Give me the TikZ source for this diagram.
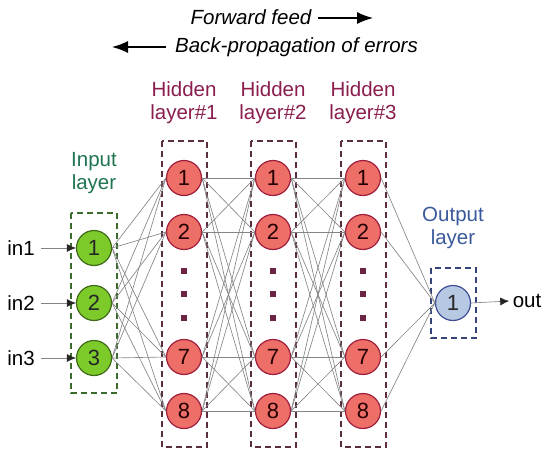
\documentclass[tikz,border=0pt]{standalone}
\usepackage{fontspec}
\setmainfont{Liberation Sans}
\usetikzlibrary{arrows.meta}
\definecolor{ingreen}{HTML}{7DCB2A}
\definecolor{inborder}{HTML}{3F6A18}
\definecolor{inboxc}{HTML}{3C6B2E}
\definecolor{inlabel}{HTML}{1F7550}
\definecolor{hidfill}{HTML}{EE6E68}
\definecolor{hidborder}{HTML}{9E1E3C}
\definecolor{hidboxc}{HTML}{5A2D40}
\definecolor{hidlabel}{HTML}{8A1E4E}
\definecolor{sqc}{HTML}{6B2444}
\definecolor{outfill}{HTML}{B7C8E3}
\definecolor{outborder}{HTML}{3F4E96}
\definecolor{outboxc}{HTML}{34437A}
\definecolor{outlabel}{HTML}{3A5A9C}
\definecolor{edgec}{HTML}{858585}
\begin{document}
\begin{tikzpicture}[x=1pt,y=-1pt,
  every node/.style={font=\fontsize{20.5}{23}\selectfont},
  neuron/.style={circle,minimum size=35pt,inner sep=0pt,line width=1.2pt,draw,font=\fontsize{22}{24}\selectfont},
  innode/.style={neuron,fill=ingreen,draw=inborder,text=black!85},
  hidnode/.style={neuron,fill=hidfill,draw=hidborder,text=black!85!red},
  outnode/.style={neuron,fill=outfill,draw=outborder,text=black!85},
  edge/.style={draw=edgec,line width=0.65pt},
  layerbox/.style={dashed,line width=1.6pt,dash pattern=on 6pt off 4pt},
  lbl/.style={align=center},
  sq/.style={rectangle,fill=sqc,minimum size=6pt,inner sep=0pt},
  ioarrow/.style={draw=edgec,line width=0.65pt,-{Latex[length=9pt,width=8pt,color=black!85]}},
  bigarrow/.style={line width=1.3pt,-{Latex[length=16pt,width=12pt]}}
]
\useasboundingbox (0,0) rectangle (550,458);

% top texts
\node (ff) at (251,17) {\itshape Forward feed};
\node (bp) at (296.5,47) {\itshape Back-propagation of errors};
\coordinate (f1) at (318,18);
\coordinate (f2) at (373,18);
\coordinate (b1) at (166,47);
\coordinate (b2) at (112,47);
\draw[bigarrow] (f1) -- (f2);
\draw[bigarrow] (b1) -- (b2);

% boxes
\draw[layerbox,draw=inboxc] (71,213) rectangle (117,393);
\draw[layerbox,draw=hidboxc] (162,141) rectangle (207,447);
\draw[layerbox,draw=hidboxc] (251,141) rectangle (296,447);
\draw[layerbox,draw=hidboxc] (341,141) rectangle (386,447);
\draw[layerbox,draw=outboxc] (431,268) rectangle (476,338);

% labels
\node[lbl,text=inlabel] (linput) at (94,173) {Input\\layer};
\node[lbl,text=hidlabel] (lh1) at (184,103) {Hidden\\layer\#1};
\node[lbl,text=hidlabel] (lh2) at (273,103) {Hidden\\layer\#2};
\node[lbl,text=hidlabel] (lh3) at (363,103) {Hidden\\layer\#3};
\node[lbl,text=outlabel] (lout) at (453,228) {Output\\layer};

% input nodes
\node[innode] (i1) at (94,248) {1};
\node[innode] (i2) at (94,303) {2};
\node[innode] (i3) at (94,358) {3};

% hidden nodes
\foreach \L/\x in {a/184,b/273,c/363}{
  \node[hidnode] (\L1) at (\x,178) {1};
  \node[hidnode] (\L2) at (\x,232) {2};
  \node[hidnode] (\L7) at (\x,357) {7};
  \node[hidnode] (\L8) at (\x,411) {8};
  \node[sq] (\L d1) at (\x,271) {};
  \node[sq] (\L d2) at (\x,294) {};
  \node[sq] (\L d3) at (\x,318) {};
}

% output node
\node[outnode] (o1) at (453,303) {1};

% edges
\foreach \i in {1,2,3}{
  \foreach \j in {1,2,7,8}{
    \draw[edge] (i\i.east) -- (a\j.west);
  }
}
\foreach \i in {1,2,7,8}{
  \foreach \j in {1,2,7,8}{
    \draw[edge] (a\i.east) -- (b\j.west);
    \draw[edge] (b\i.east) -- (c\j.west);
  }
  \draw[edge] (c\i.east) -- (o1.west);
}

% io
\node (t1) at (21,248) {in1};
\node (t2) at (21,303) {in2};
\node (t3) at (21,358) {in3};
\draw[ioarrow,shorten <=3pt] (t1.east) -- (i1.west);
\draw[ioarrow,shorten <=3pt] (t2.east) -- (i2.west);
\draw[ioarrow,shorten <=3pt] (t3.east) -- (i3.west);
\node (tout) at (527,301) {out};
\draw[ioarrow] (o1.east) -- (tout.west);
\end{tikzpicture}
\end{document}
